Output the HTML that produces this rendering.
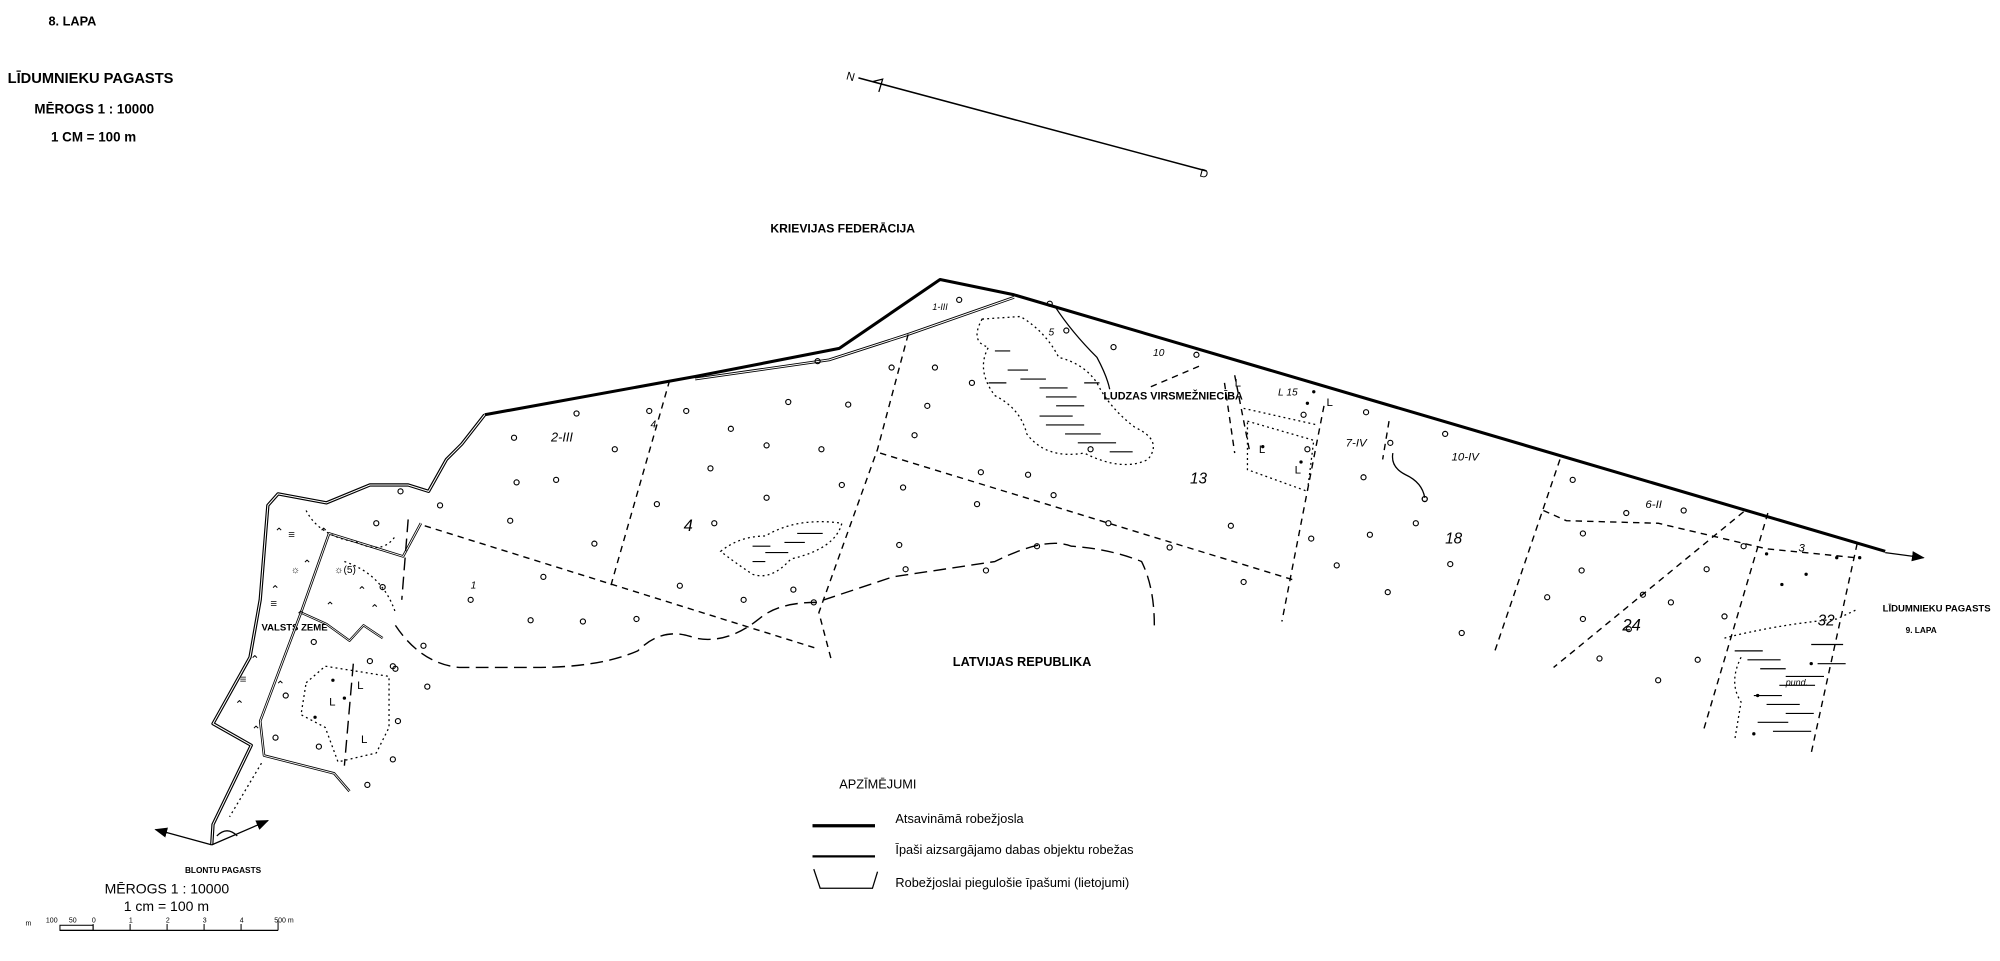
<!DOCTYPE html>
<html><head><meta charset="utf-8"><style>
html,body{margin:0;padding:0;background:#fff;}
svg{display:block}
text{font-family:"Liberation Sans",sans-serif;fill:#000}
.b{font-weight:bold}
</style></head><body>
<svg width="2000" height="961" viewBox="0 0 1568 753" preserveAspectRatio="none" xmlns="http://www.w3.org/2000/svg">
<defs>
<marker id="ar" markerWidth="10" markerHeight="8" refX="9" refY="4" orient="auto"><path d="M0,0 L10,4 L0,8 Z" fill="#000"/></marker>
</defs>
<text x="38" y="20" font-size="10" class="b">8. LAPA</text>
<text x="6" y="65" font-size="11.5" class="b">LĪDUMNIEKU PAGASTS</text>
<text x="27" y="89" font-size="10.5" class="b">MĒROGS 1 : 10000</text>
<text x="40" y="111" font-size="10.5" class="b">1 CM = 100 m</text>
<line x1="673" y1="61" x2="946" y2="134" stroke="#000" stroke-width="1.2"/>
<text x="663" y="62" font-size="9" transform="rotate(15 663 62)">N</text>
<path d="M684,64 L692,62 L689,72" fill="none" stroke="#000" stroke-width="1"/>
<text x="940" y="138" font-size="9" transform="rotate(15 940 138)">D</text>
<text x="604" y="182" font-size="9.5" class="b">KRIEVIJAS FEDERĀCIJA</text>
<text x="747" y="522" font-size="10" class="b">LATVIJAS REPUBLIKA</text>
<text x="865" y="313" font-size="8.5" class="b">LUDZAS VIRSMEŽNIECĪBA</text>
<text x="1476" y="479" font-size="7.5" class="b">LĪDUMNIEKU PAGASTS</text>
<text x="1494" y="496" font-size="6.5" class="b">9. LAPA</text>
<text x="205" y="494" font-size="7.5" class="b">VALSTS ZEME</text>
<text x="145" y="684" font-size="6.5" class="b">BLONTU PAGASTS</text>

<g fill="none" stroke="#000" stroke-linejoin="round">
<polyline points="380,325 545,295 658,273 737,219 795,231 1478,432" stroke-width="2.4"/>
<polyline points="380,327 545,298 658,276 737,222 795,234 1478,435" stroke="#fff" stroke-width="0.8"/>
<line x1="1478" y1="433" x2="1508" y2="437" stroke-width="1" marker-end="url(#ar)"/>
<polyline points="795,233 712,262 650,282 545,297" stroke-width="2.2"/>
<polyline points="795,233 712,262 650,282 545,297" stroke="#fff" stroke-width="0.8"/>
<polyline points="380,325 362,348 350,360 336,385 320,380 290,380 256,394 218,387 210,396 204,470 196,515 167,567 197,584 167,646 166,662" stroke-width="2.6"/>
<polyline points="380,325 362,348 350,360 336,385 320,380 290,380 256,394 218,387 210,396 204,470 196,515 167,567 197,584 167,646 166,662" stroke="#fff" stroke-width="0.8"/>
<polyline points="330,410 316,436 258,418 236,480 204,565 207,592 262,606 274,620" stroke-width="2"/>
<polyline points="330,410 316,436 258,418 236,480 204,565 207,592 262,606 274,620" stroke="#fff" stroke-width="0.7"/>
<polyline points="236,480 256,489 274,502 285,490 300,500" stroke-width="1.8"/>
<polyline points="236,480 256,489 274,502 285,490 300,500" stroke="#fff" stroke-width="0.6"/>
<line x1="166" y1="662" x2="122" y2="650" stroke-width="1" marker-end="url(#ar)"/>
<line x1="166" y1="662" x2="210" y2="643" stroke-width="1" marker-end="url(#ar)"/>
<path d="M170,655 q8,-8 16,0" stroke-width="1"/>
</g>

<g fill="none" stroke="#000" stroke-width="1.1" stroke-dasharray="5,4">
<line x1="333" y1="412" x2="640" y2="508"/>
<line x1="690" y1="355" x2="1016" y2="455"/>
<line x1="525" y1="298" x2="478" y2="462"/>
<polyline points="712,262 688,352 642,480 652,518"/>
<line x1="1038" y1="318" x2="1005" y2="487"/>
<line x1="1223" y1="360" x2="1172" y2="510"/>
<line x1="1386" y1="402" x2="1335" y2="574"/>
<line x1="1456" y1="426" x2="1420" y2="590"/>
<line x1="1367" y1="401" x2="1218" y2="523"/>
<polyline points="1210,400 1228,408 1300,410 1385,430 1455,437"/>
<line x1="940" y1="287" x2="900" y2="304"/>
<line x1="968" y1="294" x2="980" y2="355"/>
<line x1="960" y1="300" x2="968" y2="355"/>
<line x1="1089" y1="330" x2="1084" y2="360"/>
</g>
<g fill="none" stroke="#000" stroke-width="1.1" stroke-dasharray="10,5">
<path d="M310,490 Q330,520 360,523 L420,523 Q470,523 500,510 Q520,490 545,500 Q570,505 595,485 Q610,472 640,472 L700,452 L780,440 Q820,420 840,428 Q870,430 895,440 Q905,460 905,490"/>
<line x1="320" y1="407" x2="315" y2="470"/>
<line x1="277" y1="520" x2="270" y2="600"/>
</g>
<path d="M1092,355 Q1090,366 1102,372 Q1115,378 1117,390" fill="none" stroke="#000" stroke-width="1"/>
<circle cx="1117" cy="391" r="2" fill="none" stroke="#000"/>
<path d="M827,240 Q840,260 860,280 Q868,295 870,305" fill="none" stroke="#000" stroke-width="1"/>

<g fill="none" stroke="#000" stroke-width="1" stroke-dasharray="1.5,2.5">
<path d="M770,250 Q760,268 775,272 Q765,290 780,310 Q800,320 805,340 Q820,360 850,355 Q880,370 900,360 Q912,345 890,335 Q870,320 860,300 Q850,285 830,280 Q820,260 800,248 Z"/>
<path d="M565,432 Q580,420 600,420 Q625,405 660,410 Q655,430 620,438 Q605,455 590,450 Q575,440 565,432 Z"/>
<path d="M240,535 L255,522 L305,530 L305,570 L295,590 L265,597 L255,570 L236,560 Z"/>
<path d="M978,330 L1030,345 L1025,385 L978,368 Z"/>
<path d="M975,320 L1033,333"/>
<path d="M240,400 Q250,420 280,425 Q300,435 310,420"/>
<path d="M270,440 Q300,450 310,480"/>
<path d="M1352,500 Q1390,490 1440,485 L1455,478"/>
<path d="M1365,515 Q1355,535 1365,550 L1360,580"/>
<path d="M205,598 L180,640"/>
</g>
<g stroke="#000" stroke-width="0.9">
<path d="M790,290 h16 M800,297 h20 M815,304 h22 M820,311 h24 M828,318 h22 M815,326 h26 M820,333 h30 M835,340 h28 M845,347 h30 M870,354 h18 M780,275 h12 M775,300 h14 M850,300 h12"/>
<path d="M590,428 h14 M600,433 h18 M615,425 h16 M625,418 h20 M590,440 h10"/>
<path d="M1360,510 h22 M1370,517 h26 M1380,524 h20 M1400,530 h30 M1395,537 h28 M1375,545 h22 M1385,552 h26 M1400,559 h22 M1378,566 h24 M1390,573 h30 M1420,505 h25 M1425,520 h22"/>
</g>

<g font-size="10" font-style="italic">
<text x="432" y="346">2-III</text>
<text x="536" y="416" font-size="13">4</text>
<text x="933" y="379" font-size="12">13</text>
<text x="1133" y="426" font-size="12">18</text>
<text x="1272" y="494" font-size="13">24</text>
<text x="1425" y="490" font-size="12">32</text>
<text x="904" y="279" font-size="8">10</text>
<text x="731" y="243" font-size="7">1-III</text>
<text x="1002" y="310" font-size="8">L 15</text>
<text x="1055" y="350" font-size="9">7-IV</text>
<text x="1138" y="361" font-size="9">10-IV</text>
<text x="1290" y="398" font-size="9">6-II</text>
<text x="1410" y="432" font-size="9">3</text>
<text x="369" y="461" font-size="8">1</text>
<text x="1400" y="537" font-size="7">pund.</text>
<text x="822" y="263" font-size="8">5</text>
<text x="510" y="335" font-size="8">4</text>
</g>
<g font-size="9">
<text x="987" y="355">L</text><text x="1015" y="371">L</text>
<text x="258" y="553">L</text><text x="280" y="540">L</text><text x="283" y="582">L</text>
<text x="1040" y="318">L</text><text x="968" y="303">L</text>
<text x="215" y="420">⌃</text><text x="237" y="445">⌃</text><text x="212" y="465">⌃</text><text x="232" y="485">⌃</text><text x="196" y="520">⌃</text><text x="216" y="540">⌃</text><text x="184" y="555">⌃</text><text x="197" y="575">⌃</text><text x="250" y="420">⌃</text><text x="280" y="466">⌃</text><text x="255" y="478">⌃</text><text x="290" y="480">⌃</text>
<text x="226" y="422">≡</text><text x="212" y="476">≡</text><text x="188" y="535">≡</text>
<text x="228" y="449" font-size="8">☼</text><text x="262" y="449" font-size="8">☼(5)</text>
</g>

<g fill="none" stroke="#000" stroke-width="0.9">
<circle cx="452" cy="324" r="2"/><circle cx="403" cy="343" r="2"/><circle cx="482" cy="352" r="2"/><circle cx="436" cy="376" r="2"/><circle cx="405" cy="378" r="2"/><circle cx="345" cy="396" r="2"/><circle cx="400" cy="408" r="2"/><circle cx="466" cy="426" r="2"/><circle cx="426" cy="452" r="2"/><circle cx="369" cy="470" r="2"/><circle cx="416" cy="486" r="2"/><circle cx="457" cy="487" r="2"/><circle cx="499" cy="485" r="2"/><circle cx="332" cy="506" r="2"/><circle cx="310" cy="524" r="2"/><circle cx="335" cy="538" r="2"/><circle cx="314" cy="385" r="2"/><circle cx="295" cy="410" r="2"/><circle cx="300" cy="460" r="2"/><circle cx="246" cy="503" r="2"/><circle cx="290" cy="518" r="2"/><circle cx="308" cy="522" r="2"/><circle cx="224" cy="545" r="2"/><circle cx="216" cy="578" r="2"/><circle cx="250" cy="585" r="2"/><circle cx="288" cy="615" r="2"/><circle cx="312" cy="565" r="2"/><circle cx="308" cy="595" r="2"/>
<circle cx="509" cy="322" r="2"/><circle cx="538" cy="322" r="2"/><circle cx="573" cy="336" r="2"/><circle cx="618" cy="315" r="2"/><circle cx="665" cy="317" r="2"/><circle cx="601" cy="349" r="2"/><circle cx="557" cy="367" r="2"/><circle cx="515" cy="395" r="2"/><circle cx="560" cy="410" r="2"/><circle cx="601" cy="390" r="2"/><circle cx="660" cy="380" r="2"/><circle cx="644" cy="352" r="2"/><circle cx="533" cy="459" r="2"/><circle cx="583" cy="470" r="2"/><circle cx="638" cy="472" r="2"/><circle cx="622" cy="462" r="2"/>
<circle cx="641" cy="283" r="2"/><circle cx="699" cy="288" r="2"/><circle cx="733" cy="288" r="2"/><circle cx="752" cy="235" r="2"/><circle cx="727" cy="318" r="2"/><circle cx="717" cy="341" r="2"/><circle cx="769" cy="370" r="2"/><circle cx="708" cy="382" r="2"/><circle cx="705" cy="427" r="2"/><circle cx="773" cy="447" r="2"/><circle cx="710" cy="446" r="2"/><circle cx="762" cy="300" r="2"/>
<circle cx="873" cy="272" r="2"/><circle cx="938" cy="278" r="2"/><circle cx="823" cy="238" r="2"/><circle cx="836" cy="259" r="2"/><circle cx="855" cy="352" r="2"/><circle cx="806" cy="372" r="2"/><circle cx="766" cy="395" r="2"/><circle cx="826" cy="388" r="2"/><circle cx="869" cy="410" r="2"/><circle cx="813" cy="428" r="2"/><circle cx="917" cy="429" r="2"/><circle cx="975" cy="456" r="2"/><circle cx="965" cy="412" r="2"/><circle cx="1028" cy="422" r="2"/><circle cx="1048" cy="443" r="2"/><circle cx="1022" cy="325" r="2"/><circle cx="1025" cy="352" r="2"/><circle cx="1071" cy="323" r="2"/><circle cx="1090" cy="347" r="2"/><circle cx="1133" cy="340" r="2"/><circle cx="1069" cy="374" r="2"/><circle cx="1110" cy="410" r="2"/><circle cx="1074" cy="419" r="2"/><circle cx="1137" cy="442" r="2"/><circle cx="1088" cy="464" r="2"/><circle cx="1146" cy="496" r="2"/><circle cx="1213" cy="468" r="2"/><circle cx="1233" cy="376" r="2"/><circle cx="1241" cy="418" r="2"/><circle cx="1275" cy="402" r="2"/><circle cx="1320" cy="400" r="2"/><circle cx="1240" cy="447" r="2"/><circle cx="1288" cy="466" r="2"/><circle cx="1310" cy="472" r="2"/><circle cx="1241" cy="485" r="2"/><circle cx="1300" cy="533" r="2"/><circle cx="1254" cy="516" r="2"/><circle cx="1277" cy="493" r="2"/><circle cx="1331" cy="517" r="2"/><circle cx="1338" cy="446" r="2"/><circle cx="1367" cy="428" r="2"/><circle cx="1352" cy="483" r="2"/>
</g>
<g fill="#000">
<circle cx="1030" cy="307" r="1.3"/><circle cx="1025" cy="316" r="1.3"/><circle cx="990" cy="350" r="1.3"/><circle cx="1020" cy="362" r="1.3"/><circle cx="1440" cy="437" r="1.3"/><circle cx="1458" cy="437" r="1.3"/><circle cx="1385" cy="434" r="1.3"/><circle cx="1397" cy="458" r="1.3"/><circle cx="1416" cy="450" r="1.3"/><circle cx="1378" cy="545" r="1.3"/><circle cx="1375" cy="575" r="1.3"/><circle cx="1420" cy="520" r="1.3"/><circle cx="261" cy="533" r="1.3"/><circle cx="270" cy="547" r="1.3"/><circle cx="247" cy="562" r="1.3"/>
</g>

<text x="658" y="618" font-size="10">APZĪMĒJUMI</text>
<line x1="637" y1="647" x2="686" y2="647" stroke="#000" stroke-width="2.5"/>
<line x1="637" y1="671" x2="686" y2="671" stroke="#000" stroke-width="1.8"/>
<polyline points="638,681 643,696 684,696 688,683" fill="none" stroke="#000" stroke-width="1"/>
<text x="702" y="645" font-size="10">Atsavināmā robežjosla</text>
<text x="702" y="669" font-size="10">Īpaši aizsargājamo dabas objektu robežas</text>
<text x="702" y="695" font-size="10">Robežjoslai piegulošie īpašumi (lietojumi)</text>

<text x="82" y="700" font-size="11">MĒROGS 1 : 10000</text>
<text x="97" y="714" font-size="11">1 cm = 100 m</text>
<g font-size="5.5">
<text x="20" y="725">m</text>
<text x="36" y="723">100</text><text x="54" y="723">50</text><text x="72" y="723">0</text>
<text x="101" y="723">1</text><text x="130" y="723">2</text><text x="159" y="723">3</text><text x="188" y="723">4</text><text x="215" y="723">500 m</text>
</g>
<rect x="47" y="725" width="26" height="4" fill="none" stroke="#000" stroke-width="0.8"/>
<line x1="47" y1="729" x2="218" y2="729" stroke="#000" stroke-width="1"/>
<g stroke="#000" stroke-width="0.8"><line x1="73" y1="724" x2="73" y2="729"/><line x1="102" y1="724" x2="102" y2="729"/><line x1="131" y1="724" x2="131" y2="729"/><line x1="160" y1="724" x2="160" y2="729"/><line x1="189" y1="724" x2="189" y2="729"/><line x1="218" y1="722" x2="218" y2="729"/></g>
</svg>
</body></html>
